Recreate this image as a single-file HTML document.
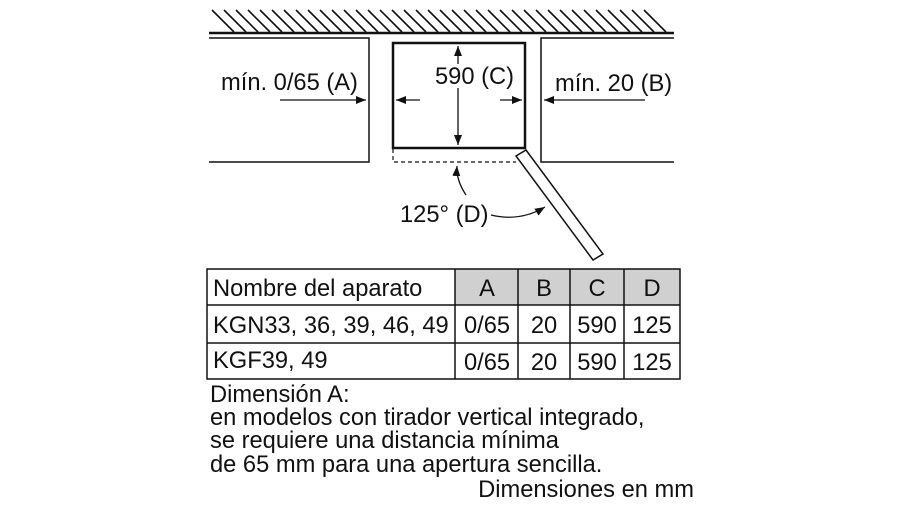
<!DOCTYPE html>
<html><head><meta charset="utf-8"><style>
html,body{margin:0;padding:0;background:#fff;}
svg{display:block;}
text{font-family:"Liberation Sans",Arial,sans-serif;fill:#111;}
</style></head><body>
<svg width="900" height="506" viewBox="0 0 900 506" xmlns="http://www.w3.org/2000/svg">
<defs>
<marker id="ar" markerWidth="10" markerHeight="8" refX="10" refY="4" orient="auto" markerUnits="userSpaceOnUse">
<path d="M0,0 L10,4 L0,8 Z" fill="#111"/></marker>
</defs>
<g stroke="#111" stroke-width="1.6">
<line x1="212" y1="10" x2="234" y2="32"/><line x1="224" y1="10" x2="246" y2="32"/><line x1="236" y1="10" x2="258" y2="32"/><line x1="248" y1="10" x2="270" y2="32"/><line x1="260" y1="10" x2="282" y2="32"/><line x1="272" y1="10" x2="294" y2="32"/><line x1="284" y1="10" x2="306" y2="32"/><line x1="296" y1="10" x2="318" y2="32"/><line x1="308" y1="10" x2="330" y2="32"/><line x1="320" y1="10" x2="342" y2="32"/><line x1="332" y1="10" x2="354" y2="32"/><line x1="344" y1="10" x2="366" y2="32"/><line x1="356" y1="10" x2="378" y2="32"/><line x1="368" y1="10" x2="390" y2="32"/><line x1="380" y1="10" x2="402" y2="32"/><line x1="392" y1="10" x2="414" y2="32"/><line x1="404" y1="10" x2="426" y2="32"/><line x1="416" y1="10" x2="438" y2="32"/><line x1="428" y1="10" x2="450" y2="32"/><line x1="440" y1="10" x2="462" y2="32"/><line x1="452" y1="10" x2="474" y2="32"/><line x1="464" y1="10" x2="486" y2="32"/><line x1="476" y1="10" x2="498" y2="32"/><line x1="488" y1="10" x2="510" y2="32"/><line x1="500" y1="10" x2="522" y2="32"/><line x1="512" y1="10" x2="534" y2="32"/><line x1="524" y1="10" x2="546" y2="32"/><line x1="536" y1="10" x2="558" y2="32"/><line x1="548" y1="10" x2="570" y2="32"/><line x1="560" y1="10" x2="582" y2="32"/><line x1="572" y1="10" x2="594" y2="32"/><line x1="584" y1="10" x2="606" y2="32"/><line x1="596" y1="10" x2="618" y2="32"/><line x1="608" y1="10" x2="630" y2="32"/><line x1="620" y1="10" x2="642" y2="32"/><line x1="632" y1="10" x2="654" y2="32"/><line x1="644" y1="10" x2="666" y2="32"/>
</g>
<line x1="209" y1="33" x2="674" y2="33" stroke="#111" stroke-width="2.5"/>
<g fill="none" stroke="#111" stroke-width="1.5">
<polyline points="209,38 369,38 369,162 209,162"/>
<polyline points="674,38 541,38 541,162 674,162"/>
</g>
<rect x="393" y="43" width="132" height="105" fill="none" stroke="#111" stroke-width="2.5"/>
<polyline points="393,149 393,162 516,162" fill="none" stroke="#111" stroke-width="1.2" stroke-dasharray="4,3"/>
<polygon points="516,156 526,150 603,254 593,260" fill="#fff" stroke="#111" stroke-width="1.5"/>
<g stroke="#111" stroke-width="1.3" fill="none">
<line x1="280" y1="100" x2="366" y2="100" marker-end="url(#ar)"/>
<line x1="420" y1="100" x2="396" y2="100" marker-end="url(#ar)"/>
<line x1="500" y1="100" x2="522" y2="100" marker-end="url(#ar)"/>
<line x1="645" y1="100" x2="544" y2="100" marker-end="url(#ar)"/>
<line x1="458" y1="90" x2="458" y2="46" marker-end="url(#ar)"/>
<line x1="458" y1="90" x2="458" y2="145" marker-end="url(#ar)"/>
<path d="M466,195 Q456,180 457,166" marker-end="url(#ar)"/>
<path d="M491,215 Q520,222 545,207" marker-end="url(#ar)"/>
</g>
<g font-size="23.7">
<text x="221" y="90">mín. 0/65 (A)</text>
<rect x="434" y="64" width="80" height="24" fill="#fff"/>
<text x="435" y="84">590 (C)</text>
<text x="555" y="91">mín. 20 (B)</text>
<text x="400" y="222">125° (D)</text>
</g>
<rect x="455" y="269" width="225" height="36" fill="#d0d0d0"/>
<g fill="none" stroke="#111" stroke-width="1.5">
<rect x="207" y="269" width="473" height="110"/>
<line x1="207" y1="305" x2="680" y2="305"/>
<line x1="207" y1="343" x2="680" y2="343"/>
<line x1="455" y1="269" x2="455" y2="379"/>
<line x1="518" y1="269" x2="518" y2="379"/>
<line x1="570" y1="269" x2="570" y2="379"/>
<line x1="624" y1="269" x2="624" y2="379"/>
</g>
<g font-size="23.7">
<text x="213" y="296">Nombre del aparato</text>
<text x="213" y="333">KGN33, 36, 39, 46, 49</text>
<text x="213" y="368">KGF39, 49</text>
<g text-anchor="middle">
<text x="487" y="296">A</text><text x="544" y="296">B</text><text x="597" y="296">C</text><text x="652" y="296">D</text>
<text x="487" y="333">0/65</text><text x="544" y="333">20</text><text x="597" y="333">590</text><text x="652" y="333">125</text>
<text x="487" y="370">0/65</text><text x="544" y="370">20</text><text x="597" y="370">590</text><text x="652" y="370">125</text>
</g>
<text x="210" y="402">Dimensión A:</text>
<text x="210" y="425">en modelos con tirador vertical integrado,</text>
<text x="210" y="448">se requiere una distancia mínima</text>
<text x="210" y="472">de 65 mm para una apertura sencilla.</text>
<text x="694" y="497" text-anchor="end">Dimensiones en mm</text>
</g>
</svg>
</body></html>
